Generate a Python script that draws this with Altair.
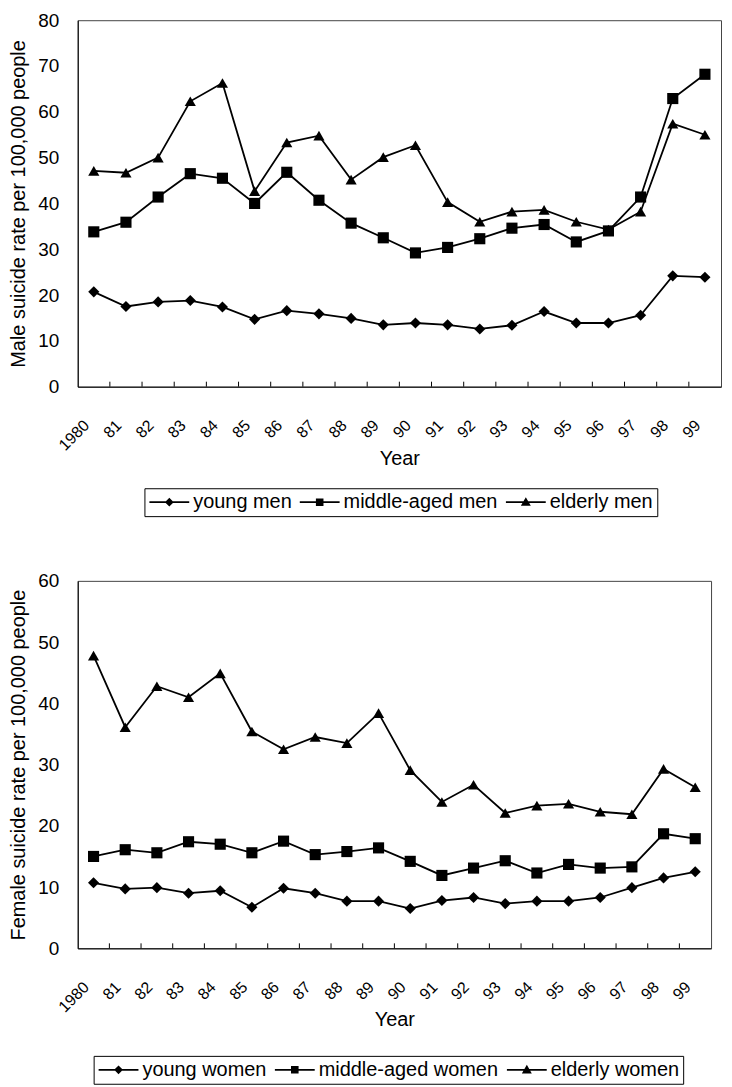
import altair as alt
import pandas as pd

years = ["1980", "81", "82", "83", "84", "85", "86", "87", "88", "89",
         "90", "91", "92", "93", "94", "95", "96", "97", "98", "99"]

male_series = ["young men", "middle-aged men", "elderly men"]
young_men = [20.7, 17.5, 18.5, 18.8, 17.4, 14.7, 16.6, 15.9, 14.9, 13.5,
             13.9, 13.5, 12.6, 13.4, 16.4, 13.9, 13.9, 15.6, 24.2, 23.9]
middle_men = [33.8, 35.9, 41.4, 46.5, 45.5, 40.0, 46.8, 40.7, 35.7, 32.5,
              29.2, 30.4, 32.3, 34.6, 35.4, 31.6, 34.0, 41.4, 62.9, 68.2]
elderly_men = [47.1, 46.7, 50.0, 62.3, 66.3, 42.7, 53.3, 54.8, 45.2, 50.1,
               52.7, 40.3, 36.0, 38.2, 38.6, 36.0, 34.3, 38.2, 57.4, 55.0]

female_series = ["young women", "middle-aged women", "elderly women"]
young_women = [10.7, 9.7, 9.9, 9.0, 9.4, 6.7, 9.8, 9.0, 7.7, 7.7,
               6.5, 7.8, 8.3, 7.3, 7.7, 7.7, 8.3, 9.9, 11.5, 12.5]
middle_women = [15.0, 16.1, 15.6, 17.4, 17.0, 15.6, 17.5, 15.3, 15.8, 16.4,
                14.2, 11.9, 13.1, 14.3, 12.3, 13.7, 13.1, 13.3, 18.7, 17.9]
elderly_women = [47.8, 36.1, 42.8, 41.0, 44.9, 35.4, 32.5, 34.5, 33.5, 38.4,
                 29.1, 23.9, 26.7, 22.1, 23.3, 23.6, 22.3, 21.9, 29.3, 26.3]

male_ticks = [0, 10, 20, 30, 40, 50, 60, 70, 80]
female_ticks = [0, 10, 20, 30, 40, 50, 60]

FONT = "Liberation Sans"
MARKERS = ["diamond", "square", "triangle-up"]
# legend symbols: a short line (thin filled bar) with the marker in its middle
LEGEND_PATHS = [
    "M-1,-0.045H1V0.045H-1ZM0,-0.22L0.22,0L0,0.22L-0.22,0Z",
    "M-1,-0.045H1V0.045H-1ZM-0.19,-0.19H0.19V0.19H-0.19Z",
    "M-1,-0.045H1V0.045H-1ZM0,-0.25L0.25,0.18H-0.25Z",
]


def panel(names, series, ytitle, yticks, width, height, leg_x, leg_y, title_y):
    rows = []
    for name, vals in zip(names, series):
        for yr, v in zip(years, vals):
            rows.append({"year": yr, "series": name, "rate": v})
    df = pd.DataFrame(rows)
    band = width / len(years)

    x = alt.X(
        "year:N", sort=years, title="Year",
        scale=alt.Scale(type="band", paddingInner=0, paddingOuter=0),
        axis=alt.Axis(labelAngle=-45, labelAlign="right", labelBaseline="middle",
                      labelOffset=-7, ticks=False,
                      labelPadding=36, labelFontSize=16, titleFontSize=20,
                      titleFontWeight="normal", titleY=title_y, titleBaseline="top",
                      grid=False,
                      domainColor="black", labelColor="black", titleColor="black"),
    )
    y = alt.Y(
        "rate:Q", title=ytitle,
        scale=alt.Scale(domain=[yticks[0], yticks[-1]], nice=False),
        axis=alt.Axis(values=yticks, ticks=False, labelPadding=19, labelFontSize=19,
                      titleFontSize=20, titleFontWeight="normal", titlePadding=9,
                      grid=False, domainColor="black", labelColor="black",
                      titleColor="black"),
    )
    base = alt.Chart(df).encode(x=x, y=y)
    lines = base.mark_line(color="black", strokeWidth=1.8).encode(detail="series:N")
    pts = base.mark_point(filled=True, color="black", opacity=1, size=125).encode(
        shape=alt.Shape("series:N", scale=alt.Scale(domain=names, range=MARKERS),
                        legend=None)
    )
    leg = base.transform_filter("false").mark_point(
        filled=True, color="black", opacity=1
    ).encode(
        shape=alt.Shape(
            "series:N", scale=alt.Scale(domain=names, range=LEGEND_PATHS),
            legend=alt.Legend(
                title=None, orient="none", legendX=leg_x, legendY=leg_y,
                direction="horizontal", symbolSize=1600, clipHeight=20,
                labelFontSize=20, labelFont=FONT, labelColor="black",
                labelLimit=400, labelOffset=3, columnPadding=7, padding=4,
                strokeColor="black", fillColor="white",
                symbolFillColor="black", symbolOpacity=1,
            ),
        )
    )
    tick_df = pd.DataFrame({"year": years[1:]})
    ticks = alt.Chart(tick_df).mark_rule(color="black", strokeWidth=1, xOffset=-band / 2).encode(
        x=alt.X("year:N", sort=years),
        y=alt.value(height),
        y2=alt.value(height - 5),
    )
    return alt.layer(lines, pts, leg, ticks).resolve_scale(shape="independent").properties(
        width=width, height=height
    )


top = panel(male_series, [young_men, middle_men, elderly_men],
            "Male suicide rate per 100,000 people", male_ticks, 646, 368, 67, 470, 62)
bottom = panel(female_series, [young_women, middle_women, elderly_women],
               "Female suicide rate per 100,000 people", female_ticks, 636, 369, 16, 477, 62)

chart = alt.vconcat(top, bottom, spacing=54).resolve_scale(shape="independent").configure(
    font=FONT, padding={"left": 0, "top": 0, "right": 2, "bottom": 0}
).configure_view(stroke="#444444", strokeWidth=1)

chart.save("out.html", embed_options={"renderer": "svg", "actions": False})
